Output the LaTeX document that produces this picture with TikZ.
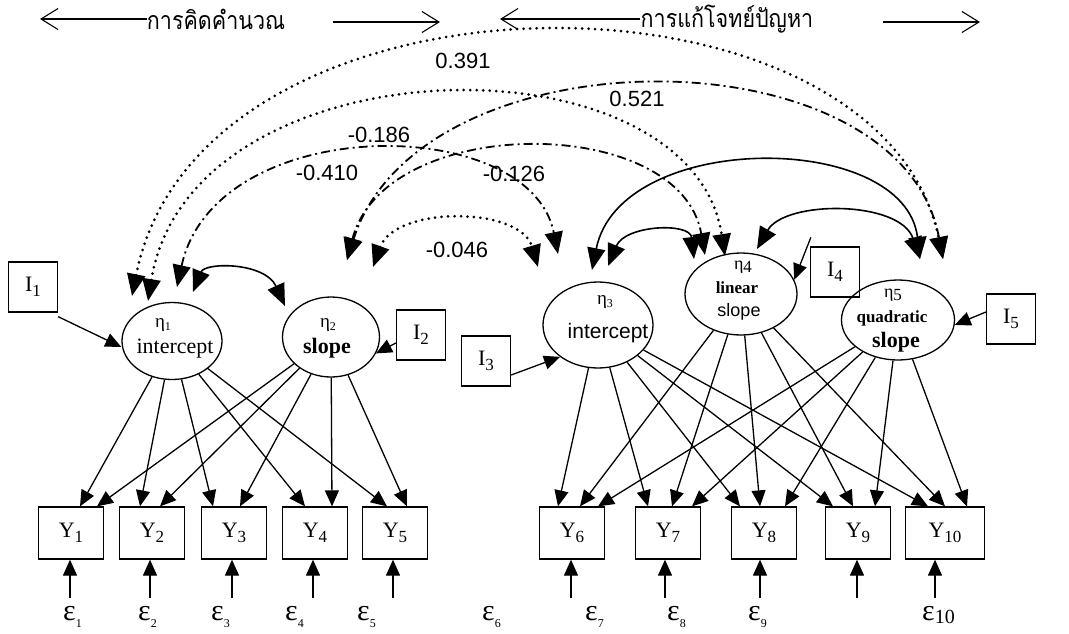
\documentclass[tikz,border=0pt]{standalone}
\usepackage{fontspec}
\setmainfont{Liberation Serif}
\setsansfont{Liberation Sans}
\newfontfamily\thaifont[Script=Thai]{Loma}
\usetikzlibrary{arrows.meta,shapes.geometric,calc}
\newcommand\lsub[1]{\raisebox{-5pt}{\fontsize{17}{17}\selectfont #1}}
\newcommand\esub[1]{\raisebox{-7pt}{\fontsize{12}{12}\selectfont #1}}
\newcommand\etsub[1]{\raisebox{-3pt}{\fontsize{12}{12}\selectfont #1}}
\newcommand\etbig[1]{\raisebox{-3pt}{\fontsize{17}{17}\selectfont #1}}
\newcommand\fs[1]{\fontsize{#1}{#1}\selectfont}
\newcommand\thaitxt[1]{\scalebox{0.86}[1]{\thaifont\fs{25}#1}}
\begin{document}
\begin{tikzpicture}[x=1pt,y=-1pt,
  lat/.style={draw, ellipse, line width=1.3pt, inner sep=0pt},
  obs/.style={draw, rectangle, line width=1.3pt, inner sep=0pt, minimum width=65pt, minimum height=52pt, font=\fs{22}},
  ibox/.style={draw, rectangle, line width=1.3pt, inner sep=0pt, minimum width=49pt, minimum height=50pt, font=\fs{22}},
  txt/.style={inner sep=0pt},
  tipA/.tip={Triangle[length=16pt,width=14pt]},
  tipB/.tip={Triangle[length=22pt,width=18pt]},
  path/.style={line width=1.3pt, -tipA},
  cov/.style={line width=1.6pt, tipB-tipB},
  dotarc/.style={cov, line width=3pt, line cap=round, dash pattern=on 0pt off 6.5pt},
  dasharc/.style={cov, line width=1.8pt, dash pattern=on 9pt off 4pt on 2pt off 4pt},
  hdr/.style={line width=1.1pt, -{Straight Barb[length=17pt,width=21pt]}},
  num/.style={font=\sffamily\fs{22}, inner sep=0pt},
  eps/.style={anchor=base west, inner sep=0pt, font=\fs{30}}
]
\useasboundingbox (0,0) rectangle (1069,633);
\fill[white] (0,0) rectangle (1069,633);

% header
\node[txt] (h1) at (216,19) {\thaitxt{การคิดคำนวณ}};
\coordinate (h1l) at (40,20);
\draw[hdr] (h1.west) -- (h1l |- h1.west);
\coordinate (h1r0) at (333,22);
\coordinate (h1r1) at (440,22);
\draw[hdr] (h1r0) -- (h1r1);
\node[txt] (h2) at (727,19) {\thaitxt{การแก้โจทย์ปัญหา}};
\coordinate (h2l) at (500,20);
\draw[hdr] (h2.west) -- (h2l |- h2.west);
\coordinate (h2r0) at (883,22);
\coordinate (h2r1) at (980,22);
\draw[hdr] (h2r0) -- (h2r1);

% latent variables
\node[lat, minimum width=100pt, minimum height=77pt] (eta1) at (172,341) {};
\node[lat, minimum width=97pt, minimum height=80pt] (eta2) at (331,337) {};
\node[lat, minimum width=110pt, minimum height=86pt] (eta3) at (598,325) {};
\node[lat, minimum width=112pt, minimum height=82pt] (eta4) at (741,294) {};
\node[lat, minimum width=113pt, minimum height=80pt] (eta5) at (898,320) {};

\node[txt, font=\fs{19}] (t1a) at (163,325) {η\etsub{1}};
\node[txt, font=\fs{22}] (t1b) at (175,349) {intercept};
\node[txt, font=\fs{19}] (t2a) at (328,325) {η\etsub{2}};
\node[txt, font=\bfseries\fs{22}] (t2b) at (327,348) {slope};
\node[txt, font=\fs{19}] (t3a) at (605,302) {η\etsub{3}};
\node[txt, font=\sffamily\fs{21}] (t3b) at (608,333) {intercept};
\node[txt, font=\fs{18}] (t4a) at (743,267) {η\etbig{4}};
\node[txt, font=\bfseries\fs{17}] (t4b) at (737,288) {linear};
\node[txt, font=\sffamily\fs{18}] (t4c) at (739,312) {slope};
\node[txt, font=\fs{18}] (t5a) at (893,295) {η\etbig{5}};
\node[txt, font=\bfseries\fs{17}] (t5b) at (892,318) {quadratic};
\node[txt, font=\bfseries\fs{22}] (t5c) at (896,342) {slope};

% intercept boxes
\node[ibox] (I1) at (33,287) {I\lsub{1}};
\node[ibox] (I2) at (421,335) {I\lsub{2}};
\node[ibox] (I3) at (486,361) {I\lsub{3}};
\node[ibox] (I4) at (835,272) {I\lsub{4}};
\node[ibox] (I5) at (1011,319) {I\lsub{5}};

\draw[path] ([yshift=-4pt]I1.south east) -- ([yshift=-6pt]eta1.west);
\draw[path] ([yshift=-8pt]I2.west) -- (eta2.-20);
\draw[path] ([yshift=-14pt]I3.east) -- (eta3.-140);
\coordinate (i4s) at ([shift={(1,-9)}]I4.north west);
\draw[path] (i4s) -- (eta4.15);
\draw[path] ([yshift=7pt]I5.west) -- (eta5.-5);

% observed
\node[obs] (Y1) at (71,533) {Y\lsub{1}};
\node[obs] (Y2) at (152,533) {Y\lsub{2}};
\node[obs] (Y3) at (234,533) {Y\lsub{3}};
\node[obs] (Y4) at (315,533) {Y\lsub{4}};
\node[obs] (Y5) at (395,533) {Y\lsub{5}};
\node[obs] (Y6) at (572,533) {Y\lsub{6}};
\node[obs] (Y7) at (668,533) {Y\lsub{7}};
\node[obs] (Y8) at (764,533) {Y\lsub{8}};
\node[obs] (Y9) at (858,533) {Y\lsub{9}};
\node[obs, minimum width=79pt] (Y10) at (945,533) {Y\lsub{10}};

% loadings
\foreach \k/\dx in {1/9, 2/-12, 3/-21, 4/-10, 5/-8}
  \draw[path] (eta1) -- ([xshift=\dx pt]Y\k.north);
\foreach \k/\dx in {1/26, 2/8, 3/6, 4/17, 5/12}
  \draw[path] (eta2) -- ([xshift=\dx pt]Y\k.north);
\foreach \k/\dx in {6/-14, 7/-20, 8/-24, 9/-25, 10/-17}
  \draw[path] (eta3) -- ([xshift=\dx pt]Y\k.north);
\foreach \k/\dx in {6/8, 7/4, 8/-4, 9/-5, 10/0}
  \draw[path] (eta4) -- ([xshift=\dx pt]Y\k.north);
\foreach \k/\dx in {6/26, 7/24, 8/21, 9/17, 10/22}
  \draw[path] (eta5) -- ([xshift=\dx pt]Y\k.north);

% errors
\foreach \k/\x in {1/70, 2/150, 3/232, 4/313, 5/393, 6/571, 7/665, 8/760, 9/857, 10/935}{
  \coordinate (u\k) at (\x,598);
  \draw[path] (u\k) -- (u\k |- Y\k.south);
}
\node[eps] (e1) at (63,620) {ε\esub{1}};
\node[eps] (e2) at (138,620) {ε\esub{2}};
\node[eps] (e3) at (211,620) {ε\esub{3}};
\node[eps] (e4) at (285,620) {ε\esub{4}};
\node[eps] (e5) at (357,620) {ε\esub{5}};
\node[eps] (e6) at (482,620) {ε\esub{6}};
\node[eps] (e7) at (585,620) {ε\esub{7}};
\node[eps] (e8) at (667,620) {ε\esub{8}};
\node[eps] (e9) at (748,620) {ε\esub{9}};
\node[eps] (e10) at (922,620) {ε\raisebox{-3pt}{\fs{20}10}};

% covariance end points
\coordinate (c1a) at (132,296);
\coordinate (c1b) at (148,301);
\coordinate (c1c) at (177,287);
\coordinate (c1d) at (193,292);
\coordinate (c2a) at (285,306);
\coordinate (c2b) at (347,260);
\coordinate (c2c) at (373,267);
\coordinate (c3a) at (538,267);
\coordinate (c3b) at (558,254);
\coordinate (c3c) at (592,270);
\coordinate (c3d) at (608,266);
\coordinate (c4a) at (694,259);
\coordinate (c4b) at (705,255);
\coordinate (c4c) at (725,256);
\coordinate (c4d) at (757,249);
\coordinate (c5a) at (920,259);
\coordinate (c5b) at (943,259);

\draw[dotarc] (c1a) .. controls (200,-48) and (880,-48) .. (c5b);
\draw[dotarc] (c1b) .. controls (190,40) and (690,30) .. (c4c);
\draw[dasharc] (c1c) .. controls (215,112) and (530,112) .. (c3b);
\draw[cov] (c1d) .. controls (205,262) and (265,262) .. (c2a);
\draw[dasharc] (c2b) .. controls (420,29) and (900,29) .. (c5b);
\draw[dasharc] (c2b) .. controls (385,113) and (680,113) .. (c4b);
\draw[dotarc] (c2c) .. controls (395,206) and (520,206) .. (c3a);
\draw[cov] (c3d) .. controls (625,225) and (690,222) .. (c4a);
\draw[cov] (c3c) .. controls (620,130) and (905,130) .. (c5a);
\draw[cov] (c4d) .. controls (785,200) and (900,200) .. (c5a);

\node[num] (l391) at (463,61) {0.391};
\node[num] (l521) at (637,99) {0.521};
\node[num] (l186) at (379,135) {-0.186};
\node[num] (l410) at (327,173) {-0.410};
\node[num] (l126) at (514,174) {-0.126};
\node[num] (l046) at (457,250) {-0.046};
\end{tikzpicture}
\end{document}
